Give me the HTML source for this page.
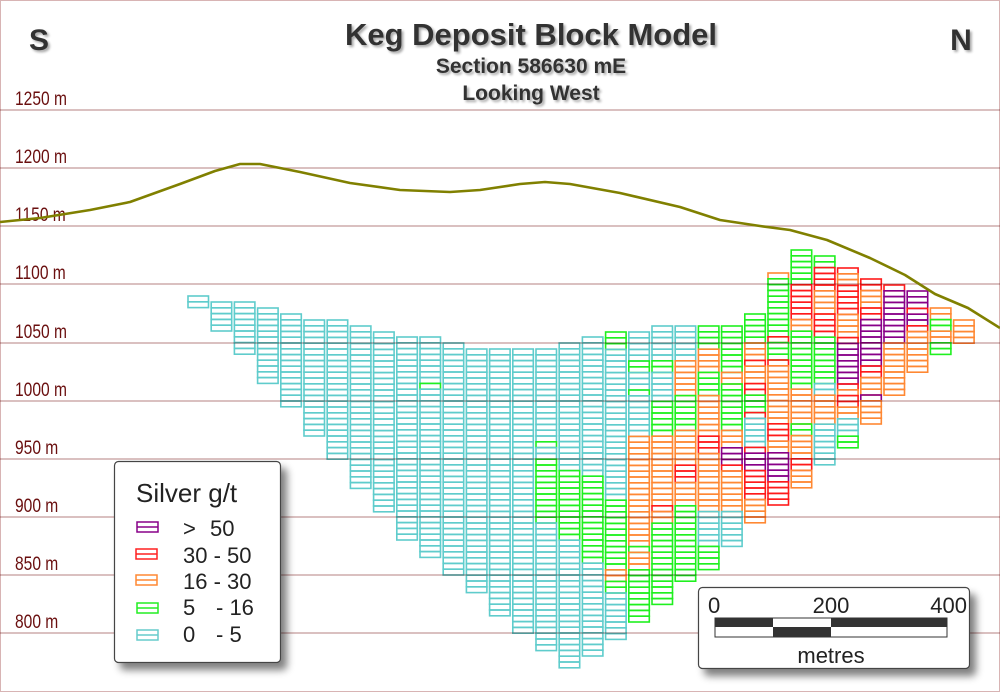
<!DOCTYPE html>
<html><head><meta charset="utf-8"><style>
html,body{margin:0;padding:0;background:#fff}
body{width:1000px;height:692px;overflow:hidden;position:relative;font-family:"Liberation Sans",sans-serif}
svg{position:absolute;left:0;top:0}
</style></head><body>
<svg id="s" width="1000" height="692" viewBox="0 0 1000 692" xmlns="http://www.w3.org/2000/svg">
<defs>
<filter id="sh" x="-20%" y="-20%" width="150%" height="150%"><feGaussianBlur in="SourceAlpha" stdDeviation="4"/><feOffset dx="6" dy="7"/><feComponentTransfer><feFuncA type="linear" slope="0.5"/></feComponentTransfer><feMerge><feMergeNode/><feMergeNode in="SourceGraphic"/></feMerge></filter>
<filter id="ts" x="-10%" y="-10%" width="130%" height="140%"><feGaussianBlur in="SourceAlpha" stdDeviation="1.2"/><feOffset dx="2" dy="2"/><feComponentTransfer><feFuncA type="linear" slope="0.35"/></feComponentTransfer><feMerge><feMergeNode/><feMergeNode in="SourceGraphic"/></feMerge></filter>
</defs>
<rect x="0.5" y="0.5" width="999" height="691" fill="#fff" stroke="#d8b4b4" stroke-width="1"/>
<g id="blocks" fill="none" stroke-width="1.6"></g>
<g id="grid" stroke="#c49a9a" stroke-width="1.2" style="mix-blend-mode:multiply"></g>
<g id="lbl" fill="#6a0f0f" font-size="19" font-family="Liberation Sans, sans-serif"></g>
<polyline fill="none" stroke="#808000" stroke-width="2.6" stroke-linejoin="round" points="0,222 40,218 90,210 130,202 180,184 215,171 240,164 260,164 300,172 350,183 400,190 450,192 480,190 520,184 545,182 570,184 620,193 680,207 720,220 760,226 790,230 827,240 870,258 905,275 935,294 968,308 1000,328"/>
<g filter="url(#ts)" fill="#333" font-weight="bold" text-anchor="middle">
<text x="39" y="50" font-size="30">S</text>
<text x="961" y="50" font-size="30">N</text>
<text x="531" y="45" font-size="31">Keg Deposit Block Model</text>
<text x="531" y="73" font-size="21">Section 586630 mE</text>
<text x="531" y="100" font-size="21">Looking West</text>
</g>
<g filter="url(#sh)">
<rect x="114.5" y="461.5" width="166" height="201" rx="4" fill="#fff" stroke="#444" stroke-width="1.2"/>
<rect x="698.5" y="587.5" width="271" height="81" rx="4" fill="#fff" stroke="#444" stroke-width="1.2"/>
</g>
<g font-family="Liberation Sans, sans-serif" fill="#222">
<text x="136" y="502" font-size="26">Silver g/t</text>
<g font-size="22">
<text x="183" y="536">&gt;</text><text x="210" y="536">50</text>
<text x="183" y="563">30 - 50</text>
<text x="183" y="589">16 - 30</text>
<text x="183" y="615">5</text><text x="216" y="615">- 16</text>
<text x="183" y="642">0</text><text x="216" y="642">- 5</text>
</g>
<text x="708" y="613" font-size="22">0</text>
<text x="831" y="613" font-size="22" text-anchor="middle">200</text>
<text x="967" y="613" font-size="22" text-anchor="end">400</text>
<text x="831" y="663" font-size="22" text-anchor="middle">metres</text>
</g>
<g stroke-width="1.5" fill="none">
<rect x="137" y="522" width="21" height="10" stroke="#880088"/><line x1="137" y1="527" x2="158" y2="527" stroke="#880088"/>
<rect x="136" y="549" width="21" height="10" stroke="#ff2020"/><line x1="136" y1="554" x2="157" y2="554" stroke="#ff2020"/>
<rect x="136" y="575" width="21" height="10" stroke="#ff8833"/><line x1="136" y1="580" x2="157" y2="580" stroke="#ff8833"/>
<rect x="137" y="603" width="21" height="10" stroke="#22ee22"/><line x1="137" y1="608" x2="158" y2="608" stroke="#22ee22"/>
<rect x="137" y="630" width="21" height="10" stroke="#66cccc"/><line x1="137" y1="635" x2="158" y2="635" stroke="#66cccc"/>
</g>
<rect x="715" y="618" width="232" height="19" fill="#fff" stroke="#333" stroke-width="1"/>
<rect x="715" y="618" width="58" height="9" fill="#333"/>
<rect x="831" y="618" width="116" height="9" fill="#333"/>
<rect x="773" y="627" width="58" height="10" fill="#333"/>
</svg>
<script>
(function(){
var NS="http://www.w3.org/2000/svg";
function el(t,a,p){var e=document.createElementNS(NS,t);for(var k in a)e.setAttribute(k,a[k]);p.appendChild(e);return e;}
var grid=document.getElementById('grid'),lbl=document.getElementById('lbl'),blk=document.getElementById('blocks');
var lines=[[110,1250],[168,1200],[226,1150],[284,1100],[343,1050],[401,1000],[459,950],[517,900],[575,850],[633,800]];
lines.forEach(function(l){el('line',{x1:0,x2:1000,y1:l[0],y2:l[0]},grid);
var t=el('text',{x:0,y:0,transform:'translate(15,'+(l[0]-5)+') scale(0.82,1)'},lbl);t.textContent=l[1]+' m';});
var C={c:'#5fcccc',g:'#1ff01f',o:'#ff8833',r:'#ff1a1a',p:'#880088'};
var D=[
[296,308,[]],[302,331,[]],[302,354,[]],[308,383,[]],[314,406,[]],[320,436,[]],[320,459,[]],[326,488,[]],[332,511,[]],[337,540,[]],
[337,558,[[383,'c'],[389,'g']]],[343,575,[]],[349,592,[]],[349,616,[]],[349,633,[]],
[349,650,[[442,'c'],[448,'g'],[459,'c'],[523,'g']]],
[343,668,[[470,'c'],[540,'g']]],
[337,656,[[476,'c'],[563,'g']]],
[332,638,[[349,'g'],[500,'c'],[570,'g'],[580,'o'],[593,'g']]],
[332,621,[[360,'c'],[372,'g'],[390,'c'],[396,'g'],[436,'c'],[546,'o'],[552,'g'],[569,'o'],[621,'g']]],
[326,604,[[360,'c'],[373,'g'],[402,'c'],[437,'g'],[506,'o'],[512,'r'],[522,'o'],[604,'g']]],
[326,580,[[360,'c'],[397,'o'],[433,'g'],[465,'o'],[482,'r'],[507,'o'],[580,'g']]],
[326,570,[[350,'g'],[372,'o'],[395,'g'],[437,'o'],[452,'r'],[512,'o'],[545,'c'],[570,'g']]],
[326,545,[[372,'g'],[385,'o'],[433,'g'],[445,'o'],[463,'p'],[470,'r'],[512,'o'],[545,'c']]],
[314,522,[[342,'g'],[360,'o'],[366,'r'],[384,'o'],[395,'r'],[412,'g'],[418,'r'],[447,'c'],[455,'r'],[470,'p'],[500,'r'],[522,'o']]],
[273,506,[[280,'o'],[337,'g'],[342,'r'],[360,'g'],[366,'r'],[425,'o'],[440,'r'],[455,'o'],[480,'p'],[506,'r']]],
[250,488,[[285,'g'],[320,'r'],[332,'o'],[390,'g'],[424,'o'],[433,'g'],[460,'o'],[470,'r'],[488,'o']]],
[256,464,[[267,'g'],[290,'r'],[313,'o'],[340,'r'],[383,'g'],[397,'c'],[423,'o'],[464,'c']]],
[268,447,[[273,'r'],[285,'o'],[313,'r'],[337,'o'],[343,'r'],[383,'p'],[388,'r'],[395,'o'],[407,'r'],[420,'o'],[437,'c'],[447,'g']]],
[279,424,[[290,'r'],[308,'o'],[320,'r'],[367,'p'],[377,'r'],[395,'o'],[400,'p'],[424,'o']]],
[285,395,[[290,'r'],[343,'p'],[395,'o']]],
[291,372,[[308,'p'],[315,'r'],[327,'p'],[332,'r'],[372,'o']]],
[308,354,[[320,'o'],[330,'g'],[343,'o'],[354,'g']]],
[320,343,[[343,'o']]]
];
D.forEach(function(d,i){
var x=188+23.2*i;
for(var y=d[0];y+4.5<=d[1]+0.5;y+=5.8){
var mid=y+2.9,col='c';
for(var j=0;j<d[2].length;j++){if(mid<d[2][j][0]){col=d[2][j][1];break;}}
el('rect',{x:x.toFixed(1),y:y.toFixed(1),width:20.5,height:5.8,stroke:C[col]},blk);
}
});
})();
</script>
</body></html>
